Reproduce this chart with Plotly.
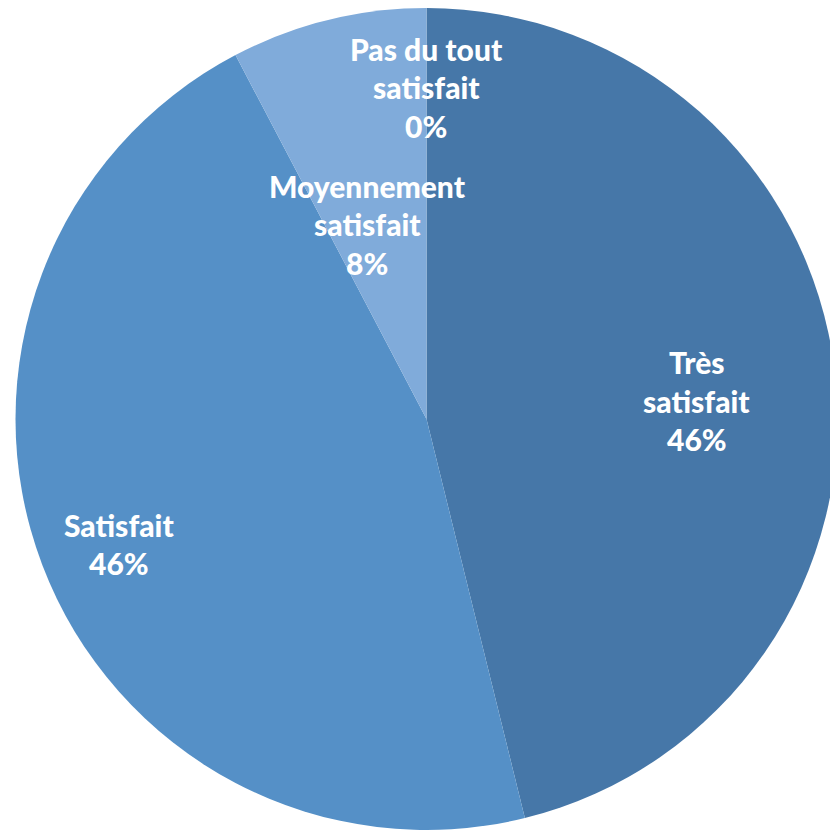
import plotly.graph_objects as go

# ---- data ----
categories = ["Très satisfait", "Satisfait", "Moyennement satisfait", "Pas du tout satisfait"]
label_lines = [["Très", "satisfait"], ["Satisfait"], ["Moyennement", "satisfait"], ["Pas du tout", "satisfait"]]
counts = [6, 6, 1, 0]
colors = ["#4677A8", "#5590C7", "#80ABDA", "#9DBDE3"]
# label centre offsets, in units of the pie radius (x right, y up)
label_dx = [0.657, -0.747, -0.144, 0.0]
label_dy = [0.044, -0.304, 0.474, 0.807]

# page body adds an 8px offset, so the figure is 8px smaller to fit the window
W, H = 830, 822
dom_x = [7 / W, 1.0]
dom_y = [0.0, 1.0]

fig = go.Figure()
fig.add_trace(go.Pie(
    labels=categories,
    values=counts,
    sort=False,
    direction="clockwise",
    rotation=0,
    marker=dict(colors=colors, line=dict(width=0)),
    textinfo="none",
    hoverinfo="label+percent",
    showlegend=False,
    domain=dict(x=dom_x, y=dom_y),
))

total = sum(counts)
R = min((dom_x[1] - dom_x[0]) * W, (dom_y[1] - dom_y[0]) * H) / 2
cx = (dom_x[0] + dom_x[1]) / 2
cy = (dom_y[0] + dom_y[1]) / 2
line_gap = 38.5
font = dict(family="Lato", size=30, color="white", weight=900)

for lines, c, dx, dy in zip(label_lines, counts, label_dx, label_dy):
    pct = round(100 * c / total)
    all_lines = lines + [f"{pct}%"]
    n = len(all_lines)
    x = cx + dx * R / W
    y = cy + dy * R / H
    for i, t in enumerate(all_lines):
        fig.add_annotation(
            x=x, y=y, xref="paper", yref="paper",
            text=t, showarrow=False,
            xanchor="center", yanchor="middle",
            yshift=((n - 1) / 2 - i) * line_gap,
            font=font,
        )

fig.update_layout(
    width=W, height=H,
    margin=dict(l=0, r=0, t=0, b=0),
    paper_bgcolor="white",
    plot_bgcolor="white",
)

fig.write_html("out.html")
